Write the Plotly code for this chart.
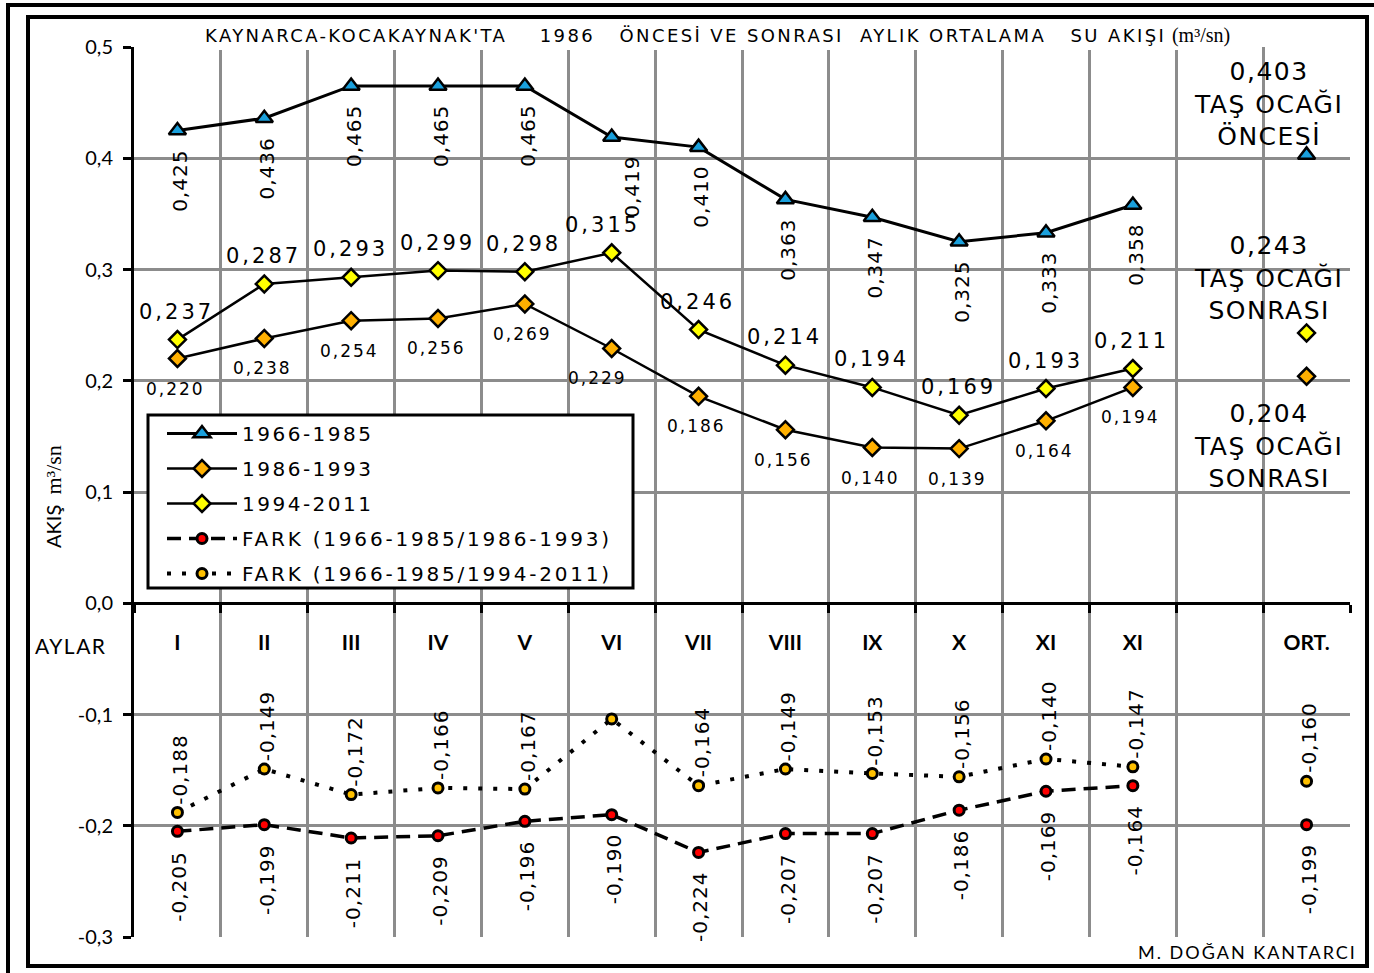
import plotly.graph_objects as go

# ---------------- data ----------------
months = ["I", "II", "III", "IV", "V", "VI", "VII", "VIII", "IX", "X", "XI", "XI", "", "ORT."]
x_pos = list(range(len(months)))

s_1966_1985 = [0.425, 0.436, 0.465, 0.465, 0.465, 0.419, 0.410, 0.363, 0.347, 0.325, 0.333, 0.358, None, 0.403]
s_1986_1993 = [0.220, 0.238, 0.254, 0.256, 0.269, 0.229, 0.186, 0.156, 0.140, 0.139, 0.164, 0.194, None, 0.204]
s_1994_2011 = [0.237, 0.287, 0.293, 0.299, 0.298, 0.315, 0.246, 0.214, 0.194, 0.169, 0.193, 0.211, None, 0.243]
fark_1986_1993 = [-0.205, -0.199, -0.211, -0.209, -0.196, -0.190, -0.224, -0.207, -0.207, -0.186, -0.169, -0.164, None, -0.199]
fark_1994_2011 = [-0.188, -0.149, -0.172, -0.166, -0.167, -0.104, -0.164, -0.149, -0.153, -0.156, -0.140, -0.147, None, -0.160]

y_tick_vals = [-0.3, -0.2, -0.1, 0.0, 0.1, 0.2, 0.3, 0.4, 0.5]
y_tick_text = ["-0,3", "-0,2", "-0,1", "0,0", "0,1", "0,2", "0,3", "0,4", "0,5"]

series_names = ["1966-1985", "1986-1993", "1994-2011",
                "FARK (1966-1985/1986-1993)", "FARK (1966-1985/1994-2011)"]

NB = "\u00a0"
title_words = ["KAYNARCA-KOCAKAYNAK'TA", "1986", "ÖNCESİ VE SONRASI", "AYLIK ORTALAMA", "SU AKIŞI"]
ort_label_once = "TAŞ OCAĞI<br>ÖNCESİ"
ort_label_sonra = "TAŞ OCAĞI<br>SONRASI"
author = "M. DOĞAN KANTARCI"

# ---------------- geometry helpers (layout only) ----------------
W, H = 1374, 973
L, R, T, B = 134, 1350, 47, 937


def px(x):
    return (x - L) / (R - L)


def py(y):
    return (B - y) / (B - T)


def fmt(v):
    return f"{v:.3f}".replace(".", ",")


def spaced(text, ls):
    return f"<span style='letter-spacing:{ls}px'>{text}</span>"


ORT = len(months) - 1
LABEL_FONT = "DejaVu Sans"
MAIN_FONT = "Lato"

title_text = spaced(title_words[0] + NB * 4 + title_words[1] + NB * 3 + title_words[2] + NB * 2 +
                    title_words[3] + NB * 3 + title_words[4], 2.4) + \
    " <span style='font-family:Liberation Serif;font-size:20px'>(m³/sn)</span>"

fig = go.Figure()

fig.add_trace(go.Scatter(
    x=x_pos, y=s_1966_1985, name=spaced(series_names[0], 2.5), mode="lines+markers",
    line=dict(color="black", width=3),
    marker=dict(symbol="triangle-up", size=15, color="#1AA0DC", line=dict(color="black", width=2.5)),
    legendgroup="a", connectgaps=False))
fig.add_trace(go.Scatter(
    x=x_pos, y=s_1986_1993, name=spaced(series_names[1], 2.5), mode="lines+markers",
    line=dict(color="black", width=2.5),
    marker=dict(symbol="diamond", size=13, color="#FFB000", line=dict(color="black", width=2.5)),
    legendgroup="b", connectgaps=False))
fig.add_trace(go.Scatter(
    x=x_pos, y=s_1994_2011, name=spaced(series_names[2], 2.5), mode="lines+markers",
    line=dict(color="black", width=2.5),
    marker=dict(symbol="diamond", size=13, color="#FFFF00", line=dict(color="black", width=2.5)),
    legendgroup="c", connectgaps=False))
fig.add_trace(go.Scatter(
    x=x_pos, y=fark_1986_1993, name=spaced(series_names[3], 2.8), mode="lines+markers",
    line=dict(color="black", width=3.5, dash="14px,8px"),
    marker=dict(symbol="circle", size=10, color="#FF0000", line=dict(color="black", width=3)),
    legendgroup="d", connectgaps=False))
fig.add_trace(go.Scatter(
    x=x_pos, y=fark_1994_2011, name=spaced(series_names[4], 2.8), mode="lines+markers",
    line=dict(color="black", width=4, dash="4px,11px"),
    marker=dict(symbol="circle", size=10, color="#FFC000", line=dict(color="black", width=3)),
    legendgroup="e", connectgaps=False))

ann = []

# 1966-1985 labels (rotated, below points)
for i, v in enumerate(s_1966_1985):
    if v is None or i == ORT:
        continue
    ann.append(dict(x=x_pos[i], y=v, text=spaced(fmt(v), 1), textangle=-90, showarrow=False,
                    xanchor="center", yanchor="top", yshift=-17, xshift=3 + (17 if i == 5 else 0),
                    font=dict(family=LABEL_FONT, size=20, color="black")))

# 1994-2011 labels (above points)
for i, v in enumerate(s_1994_2011):
    if v is None or i == ORT:
        continue
    ann.append(dict(x=x_pos[i], y=v, text=spaced(fmt(v), 3), showarrow=False,
                    xanchor="center", yanchor="middle", yshift=28, xshift=-1 - (8 if i == 5 else 0),
                    font=dict(family=LABEL_FONT, size=21, color="black")))

# 1986-1993 labels (below points)
for i, v in enumerate(s_1986_1993):
    if v is None or i == ORT:
        continue
    ann.append(dict(x=x_pos[i], y=v, text=spaced(fmt(v), 2), showarrow=False,
                    xanchor="center", yanchor="middle", yshift=-30, xshift=-2 - (12 if i == 5 else 0),
                    font=dict(family=LABEL_FONT, size=17, color="black")))

# FARK 1966-1985/1994-2011 labels (rotated, above points) - VI has no label in the original
for i, v in enumerate(fark_1994_2011):
    if v is None or i == 5:
        continue
    ann.append(dict(x=x_pos[i], y=v, text=spaced(fmt(v), 1), textangle=-90, showarrow=False,
                    xanchor="center", yanchor="bottom", yshift=6, xshift=3,
                    font=dict(family=LABEL_FONT, size=20, color="black")))

# FARK 1966-1985/1986-1993 labels (rotated, below points)
for i, v in enumerate(fark_1986_1993):
    if v is None:
        continue
    ann.append(dict(x=x_pos[i], y=v, text=spaced(fmt(v), 1), textangle=-90, showarrow=False,
                    xanchor="center", yanchor="top", yshift=-18, xshift=2,
                    font=dict(family=LABEL_FONT, size=20, color="black")))

# Averages block (ORT.)
ann.append(dict(x=ORT, y=s_1966_1985[ORT], text=spaced(fmt(s_1966_1985[ORT]) + "<br>" + ort_label_once, 1.5),
                showarrow=False, xanchor="center", yanchor="bottom", xshift=-38, yshift=2,
                font=dict(family=LABEL_FONT, size=25, color="black")))
ann.append(dict(x=ORT, y=s_1994_2011[ORT], text=spaced(fmt(s_1994_2011[ORT]) + "<br>" + ort_label_sonra, 1.5),
                showarrow=False, xanchor="center", yanchor="bottom", xshift=-38, yshift=6,
                font=dict(family=LABEL_FONT, size=25, color="black")))
ann.append(dict(x=ORT, y=s_1986_1993[ORT], text=spaced(fmt(s_1986_1993[ORT]) + "<br>" + ort_label_sonra, 1.5),
                showarrow=False, xanchor="center", yanchor="top", xshift=-38, yshift=-21,
                font=dict(family=LABEL_FONT, size=25, color="black")))

# title
ann.append(dict(xref="paper", yref="paper", x=px(717), y=py(35), text=title_text, showarrow=False,
                xanchor="center", yanchor="middle",
                font=dict(family=LABEL_FONT, size=18, color="black")))
# y-axis title
ann.append(dict(xref="paper", yref="paper", x=px(53), y=py(497), textangle=-90, showarrow=False,
                text="AKIŞ" + NB * 2 + "<span style='font-family:Liberation Serif;font-size:22px'>m³/sn</span>",
                xanchor="center", yanchor="middle",
                font=dict(family=MAIN_FONT, size=20, color="black")))
# AYLAR
ann.append(dict(xref="paper", yref="paper", x=px(71), y=py(645), text=spaced("AYLAR", 1.5), showarrow=False,
                xanchor="center", yanchor="middle", font=dict(family=MAIN_FONT, size=21, color="black")))
# author
ann.append(dict(xref="paper", yref="paper", x=px(1359), y=py(952), text=spaced(author, 2), showarrow=False,
                xanchor="right", yanchor="middle", font=dict(family=MAIN_FONT, size=18, color="black")))

shapes = [
    # white box behind the title
    dict(type="rect", xref="paper", yref="paper", x0=px(190), x1=px(1262), y0=py(50), y1=py(19),
         fillcolor="white", line=dict(width=0), layer="above"),
    # legend box
    dict(type="rect", xref="paper", yref="paper", x0=px(148), x1=px(633), y0=py(588), y1=py(415),
         fillcolor="white", line=dict(color="black", width=3), layer="above"),
    # inner frame
    dict(type="rect", xref="paper", yref="paper", x0=px(28), x1=px(1367), y0=py(966), y1=py(17),
         line=dict(color="black", width=4), layer="above"),
    # outer frame
    dict(type="rect", xref="paper", yref="paper", x0=px(8), x1=px(1395), y0=py(995), y1=py(5),
         line=dict(color="black", width=4), layer="above"),
]

GRID = "#8C8C8C"
fig.update_layout(
    width=W, height=H,
    margin=dict(l=L, r=W - R, t=T, b=H - B, pad=0),
    paper_bgcolor="white", plot_bgcolor="white",
    showlegend=True,
    legend=dict(x=px(162), y=py(414), xanchor="left", yanchor="top",
                bgcolor="rgba(0,0,0,0)", borderwidth=0, tracegroupgap=6,
                itemwidth=70,
                font=dict(family=LABEL_FONT, size=20, color="black")),
    xaxis=dict(range=[-0.5, len(months) - 0.5], anchor="free", position=py(603),
               tickmode="array", tickvals=x_pos, ticktext=months, ticks="",
               tickfont=dict(family=MAIN_FONT, size=21, color="black", weight="bold"),
               ticklabelstandoff=20,
               showline=True, linecolor="black", linewidth=3,
               showgrid=False, zeroline=False,
               minor=dict(tickmode="linear", tick0=-0.5, dtick=1, ticks="outside", ticklen=8,
                          tickwidth=3, tickcolor="black", showgrid=True, gridcolor=GRID, gridwidth=3)),
    yaxis=dict(range=[-0.3, 0.5], tickmode="array", tickvals=y_tick_vals, ticktext=y_tick_text,
               ticks="outside", ticklen=8, tickwidth=3, tickcolor="black",
               tickfont=dict(family=MAIN_FONT, size=20, color="black"),
               ticklabelstandoff=6,
               showline=True, linecolor="black", linewidth=3,
               showgrid=True, gridcolor=GRID, gridwidth=3, zeroline=False),
    annotations=ann,
    shapes=shapes,
)

fig.write_html("out.html", config={"displayModeBar": False},
               post_script="document.body.style.margin='0';")
